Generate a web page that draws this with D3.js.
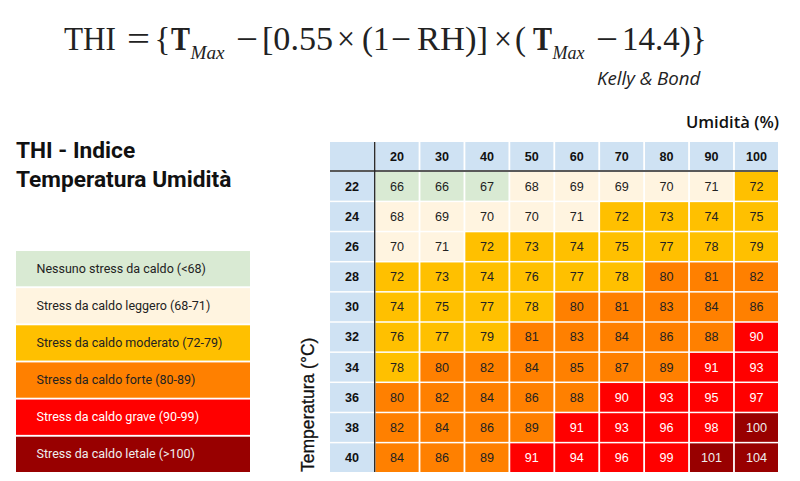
<!DOCTYPE html>
<html><head><meta charset="utf-8">
<script src="https://cdn.jsdelivr.net/npm/d3@7"></script>
<style>html,body{margin:0;padding:0;background:#fff;overflow:hidden}svg{display:block}</style>
</head><body><svg id="c" width="800" height="481"></svg>
<script>
const humidity = [20,30,40,50,60,70,80,90,100];
const temperature = [22,24,26,28,30,32,34,36,38,40];
const thiValues = [
 [66,66,67,68,69,69,70,71,72],
 [68,69,70,70,71,72,73,74,75],
 [70,71,72,73,74,75,77,78,79],
 [72,73,74,76,77,78,80,81,82],
 [74,75,77,78,80,81,83,84,86],
 [76,77,79,81,83,84,86,88,90],
 [78,80,82,84,85,87,89,91,93],
 [80,82,84,86,88,90,93,95,97],
 [82,84,86,89,91,93,96,98,100],
 [84,86,89,91,94,96,99,101,104]
];
const classLabels = ["Nessuno stress da caldo (<68)","Stress da caldo leggero (68-71)","Stress da caldo moderato (72-79)","Stress da caldo forte (80-89)","Stress da caldo grave (90-99)","Stress da caldo letale (>100)"];
const classBreaks = [68,72,80,90,100];
const formulaTokens = ["THI","=","{","T","Max","−","[0.55","×","(1","−","RH)]","×","(","T","Max","−","14.4)}"];

const classColors = ["#d9ead3","#fff4e0","#ffc000","#ff8000","#ff0000","#980000"];
const classText = ["#222","#222","#222","#222","#fff","#eee"];
const headerColor = "#cfe2f3";

const svg = d3.select("#c");
const cls = d3.scaleThreshold().domain(classBreaks).range(d3.range(6));

// formula layout: [x, width or 0]
const formulaLayout = [[64,52],[127,23],[154.5,0],[171,19],[190.5,34],[236,22],[262,71],[337,18],[362,0],[391,20],[417,71],[494,18],[515,0],[533,19],[552.5,32],[596,22],[622,0]];
const f = svg.append("g").attr("font-family","'Liberation Serif',serif").attr("fill","#222");
f.selectAll("text").data(formulaTokens).join("text").text(d=>d)
 .attr("x",(d,i)=>formulaLayout[i][0])
 .attr("y",d=>d==="Max"?59:50)
 .attr("font-size",d=>d==="Max"?18:33)
 .attr("font-weight",d=>d==="T"?"bold":"normal")
 .attr("font-style",d=>d==="Max"?"italic":"normal")
 .each(function(d,i){ if(formulaLayout[i][1]) d3.select(this).attr("textLength",formulaLayout[i][1]).attr("lengthAdjust","spacingAndGlyphs"); });

svg.append("text").text("Kelly & Bond").attr("x",597).attr("y",85).attr("font-family","'Open Sans'").attr("font-style","italic").attr("font-size",18.7).attr("fill","#222");
svg.append("text").text("Umidità (%)").attr("x",779).attr("y",128).attr("text-anchor","end").attr("font-family","'Open Sans'").attr("font-weight",600).attr("font-size",16.6).attr("fill","#111");
svg.append("text").text("THI - Indice").attr("x",16).attr("y",158).attr("font-family","Roboto").attr("font-weight",700).attr("font-size",22.7).attr("fill","#111");
svg.append("text").text("Temperatura Umidità").attr("x",16).attr("y",187).attr("font-family","Roboto").attr("font-weight",700).attr("font-size",22.7).attr("fill","#111");

// legend
const ly = d3.scaleBand().domain(d3.range(6)).range([251,472]).paddingInner(0.05);
const lg = svg.append("g");
lg.selectAll("rect").data(classLabels).join("rect").attr("x",16).attr("width",234).attr("y",(d,i)=>ly(i)).attr("height",ly.bandwidth()).attr("fill",(d,i)=>classColors[i]);
lg.selectAll("text").data(classLabels).join("text").text(d=>d).attr("x",36.5).attr("y",(d,i)=>ly(i)+ly.bandwidth()/2).attr("dy","0.33em")
 .attr("font-family","Roboto").attr("font-size",12.5).attr("fill",(d,i)=>classText[i]);

// table
const x = d3.scaleBand().domain(humidity).range([375.5,778]).paddingInner(0.04);
const y = d3.scaleBand().domain(temperature).range([172,472]).paddingInner(0.05);
const tf = "'Liberation Sans',Arial,sans-serif";
const t = svg.append("g").attr("font-family",tf).attr("font-size",12.6);
t.append("rect").attr("x",330).attr("y",142).attr("width",44).attr("height",28).attr("fill",headerColor);
t.selectAll("rect.h").data(humidity).join("rect").attr("class","h").attr("x",d=>x(d)).attr("y",142).attr("width",x.bandwidth()).attr("height",28).attr("fill",headerColor);
t.selectAll("text.h").data(humidity).join("text").attr("class","h").text(d=>d).attr("x",d=>x(d)+x.bandwidth()/2).attr("y",157).attr("dy","0.35em").attr("text-anchor","middle").attr("font-weight",700).attr("fill","#111");
t.selectAll("rect.r").data(temperature).join("rect").attr("class","r").attr("x",330).attr("width",44).attr("y",d=>y(d)).attr("height",y.bandwidth()).attr("fill",headerColor);
t.selectAll("text.r").data(temperature).join("text").attr("class","r").text(d=>d).attr("x",352).attr("y",d=>y(d)+y.bandwidth()/2).attr("dy","0.35em").attr("text-anchor","middle").attr("font-weight",700).attr("fill","#111");
const cells = temperature.flatMap((T,i)=>humidity.map((H,j)=>({T,H,v:thiValues[i][j]})));
t.selectAll("rect.c").data(cells).join("rect").attr("class","c").attr("x",d=>x(d.H)).attr("y",d=>y(d.T)).attr("width",x.bandwidth()).attr("height",y.bandwidth()).attr("fill",d=>classColors[cls(d.v)]);
t.selectAll("text.c").data(cells).join("text").attr("class","c").text(d=>d.v).attr("x",d=>x(d.H)+x.bandwidth()/2).attr("y",d=>y(d.T)+y.bandwidth()/2).attr("dy","0.35em").attr("text-anchor","middle").attr("fill",d=>classText[cls(d.v)]);
t.append("line").attr("x1",374.7).attr("x2",374.7).attr("y1",142).attr("y2",472).attr("stroke","#222").attr("stroke-width",1.3);
t.append("line").attr("x1",330).attr("x2",778).attr("y1",171).attr("y2",171).attr("stroke","#222").attr("stroke-width",1.3);

svg.append("text").text("Temperatura (°C)").attr("transform","translate(314,472) rotate(-90)").attr("font-family",tf).attr("font-weight",400).attr("font-size",17.5).attr("stroke","#111").attr("stroke-width",0.3).attr("fill","#111");
</script></body></html>
